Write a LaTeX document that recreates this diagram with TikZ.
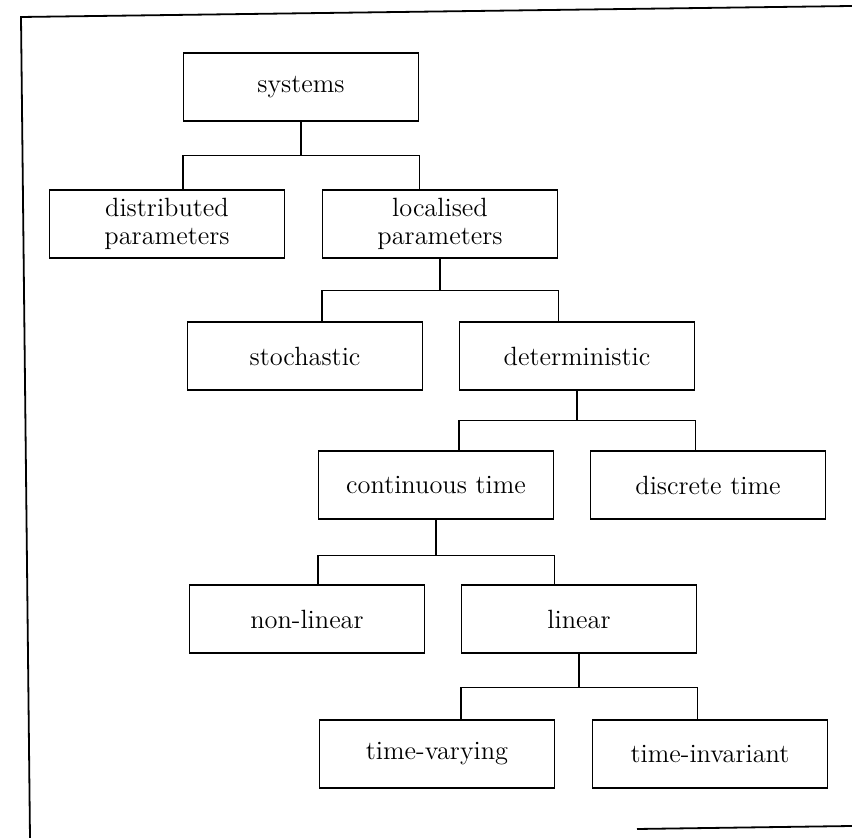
\documentclass[tikz,border=0pt]{standalone}
\usetikzlibrary{positioning}
\begin{document}
\begin{tikzpicture}[x=0.5pt,y=-0.5pt]
    \tikzset{every node/.style={font=\fontsize{13.2}{14}\selectfont},
        sysbox/.style={draw,line width=0.6pt,minimum width=117.5pt,minimum height=34pt,align=center,inner sep=0pt},
        link/.style={line width=0.6pt}}
    \useasboundingbox (0,0) rectangle (852,838);
    \draw [line width=0.9pt] (852,6) -- (21,17) -- (30,838);
    \draw [line width=0.9pt] (637,829) -- (852,826);
    \node [sysbox] (systems) at (301,87) {systems};
    \node [sysbox] (dist) at (167,224) {distributed\\parameters};
    \node [sysbox] (loc) at (440,224) {localised\\parameters};
    \node [sysbox] (stoch) at (305,356) {stochastic};
    \node [sysbox] (determ) at (577,356) {deterministic};
    \node [sysbox] (contt) at (436,485) {continuous time};
    \node [sysbox] (disct) at (708,485) {discrete time};
    \node [sysbox] (nonlin) at (307,619) {non-linear};
    \node [sysbox] (lin) at (579,619) {linear};
    \node [sysbox] (tvar) at (437,754) {time-varying};
    \node [sysbox] (tinv) at (710,754) {time-invariant};
    \draw [link] (systems.south) -- ++(0,34) coordinate (bar1);
    \draw [link] (dist.north -| systems.west) |- (bar1) -| (loc.north -| systems.east);
    \draw [link] (loc.south) -- ++(0,32) coordinate (bar2);
    \draw [link] (stoch.north -| loc.west) |- (bar2) -| (determ.north -| loc.east);
    \draw [link] (determ.south) -- ++(0,30) coordinate (bar3);
    \draw [link] (contt.north -| determ.west) |- (bar3) -| (disct.north -| determ.east);
    \draw [link] (contt.south) -- ++(0,36) coordinate (bar4);
    \draw [link] (nonlin.north -| contt.west) |- (bar4) -| (lin.north -| contt.east);
    \draw [link] (lin.south) -- ++(0,34) coordinate (bar5);
    \draw [link] (tvar.north -| lin.west) |- (bar5) -| (tinv.north -| lin.east);
\end{tikzpicture}
\end{document}
